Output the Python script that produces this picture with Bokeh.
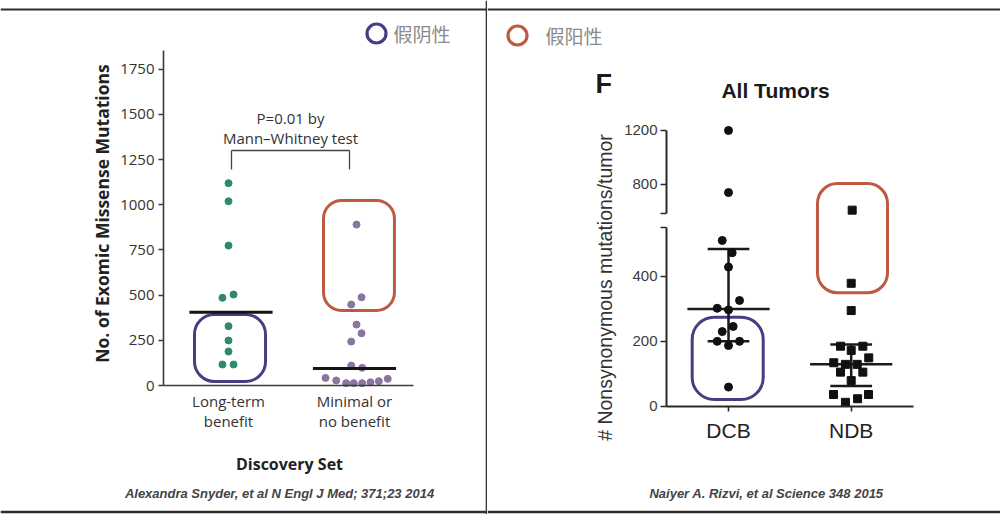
import math
from bokeh.plotting import figure
from bokeh.models import Range1d, LinearAxis, FixedTicker, Span
from bokeh.layouts import row
from bokeh.core.properties import value
from bokeh.embed import file_html
from bokeh.resources import INLINE

# ---------------- data: Snyder et al., NEJM 2014 (left panel) ----------------
snyder_categories = ["Long-term\nbenefit", "Minimal or\nno benefit"]
snyder_ticks = [0, 250, 500, 750, 1000, 1250, 1500, 1750]
ltb_values = [1119, 1019, 774, 503, 485, 328, 249, 188, 116, 116]
ltb_jitter = [0, 0, 0, 0.04, -0.048, 0, 0, 0, -0.048, 0.04]
mnb_values = [890, 488, 448, 337, 289, 243, 110, 98, 42, 28, 13, 13, 13, 18, 24, 37]
mnb_jitter = [0.016, 0.056, -0.026, 0.016, 0.056, -0.026, -0.026, 0.061,
              -0.230, -0.145, -0.066, -0.006, 0.061, 0.127, 0.193, 0.264]
snyder_medians = [405, 94]
snyder_fn_box = [0.73, 1.294, 22, 393]      # left, right, bottom, top
snyder_fp_box = [1.754, 2.317, 415, 1023]
p_value_lines = ["P=0.01 by", "Mann\u2013Whitney test"]

# ---------------- data: Rizvi et al., Science 2015 (right panel) ----------------
rizvi_categories = ["DCB", "NDB"]
rizvi_lower_ticks = [0, 200, 400]
rizvi_upper_ticks = [800, 1200]
dcb_values = [1200, 740, 511, 473, 429, 326, 302, 297, 246, 230, 200, 200, 187, 59]
dcb_jitter = [0, 0, -0.051, 0.03, 0, 0.09, -0.092, 0, 0.038, -0.051, -0.092, 0.09, 0, 0]
ndb_values = [610, 379, 295, 185, 185, 172, 149, 134, 129, 129, 105, 105, 79, 36, 36, 23, 12]
ndb_jitter = [0.008, 0, 0, -0.087, 0.095, 0, 0.143, -0.142, -0.047, 0.049,
              -0.087, 0.095, 0, -0.144, 0.141, 0.052, -0.047]
rizvi_median = [300, 129]
rizvi_q1 = [200, 62]
rizvi_q3 = [485, 190]
rizvi_fn_box = [0.704, 1.283, 21, 274]
rizvi_fp_box = [1.725, 2.296, 350, 807]

PURPLE = "#4b3c82"
RED = "#bd5a40"
LEG_TXT = "#8a8a8a"
RULE = "#2e2e2e"
CJK = value("Noto Sans CJK SC")

# ======================= LEFT PANEL =======================
L_LEFT, L_TOP, L_W, L_H = 0, 0, 487, 514
LX0, LXS = 228.0, 126.0          # category 1 position / px per category
LY0, LYS = 385.0, 45.2 / 250     # zero line / px per mutation


def lx(px):
    return 1 + (px - LX0) / LXS


def ly(py):
    return (LY0 - py) / LYS


pL = figure(width=L_W, height=L_H, output_backend="svg", toolbar_location=None,
            x_range=Range1d(lx(L_LEFT), lx(L_LEFT + L_W)),
            y_range=Range1d(ly(L_TOP + L_H), ly(L_TOP)),
            x_axis_type=None, y_axis_type=None, min_border=0)
pL.outline_line_color = None

sans = value("Open Sans")

yaxL = LinearAxis(fixed_location=lx(163), bounds=(0, ly(50)),
                  ticker=FixedTicker(ticks=snyder_ticks))
xaxL = LinearAxis(fixed_location=0, bounds=(lx(163), lx(413)),
                  ticker=FixedTicker(ticks=[1, 2]),
                  major_label_overrides={1: snyder_categories[0], 2: snyder_categories[1]})
for ax in (yaxL, xaxL):
    ax.axis_line_color = "#3a3a3a"
    ax.axis_line_width = 1.6
    ax.major_tick_line_color = "#3a3a3a"
    ax.major_tick_line_width = 1.4
    ax.major_tick_in = 0
    ax.minor_tick_in = 0
    ax.minor_tick_out = 0
    ax.major_label_text_font = "Open Sans"
    ax.major_label_text_font_size = "15px"
    ax.major_label_text_color = "#333333"
yaxL.major_tick_out = 5
yaxL.major_label_standoff = 4
xaxL.major_tick_out = 0
xaxL.major_label_standoff = 5
xaxL.major_label_text_line_height = 1.0
pL.add_layout(yaxL, "left")
pL.add_layout(xaxL, "below")

# highlight boxes
pL.quad(left=[snyder_fn_box[0]], right=[snyder_fn_box[1]], bottom=[snyder_fn_box[2]], top=[snyder_fn_box[3]],
        fill_color=None, line_color=PURPLE, line_width=3, border_radius=20)
pL.quad(left=[snyder_fp_box[0]], right=[snyder_fp_box[1]], bottom=[snyder_fp_box[2]], top=[snyder_fp_box[3]],
        fill_color=None, line_color=RED, line_width=3, border_radius=18)

# points
pL.scatter(x=[1 + j for j in ltb_jitter], y=ltb_values, size=7, color="#2e8a6b")
pL.scatter(x=[2 + j for j in mnb_jitter], y=mnb_values, size=7, color="#8a74a0")

# medians
pL.segment(x0=[c - 0.33 for c in (1.02, 2.0)], x1=[c + 0.33 for c in (1.02, 2.0)],
           y0=snyder_medians, y1=snyder_medians, line_width=3, line_color="#151515")

# significance bracket
br_top, br_bot = ly(150), ly(169)
pL.segment(x0=[lx(231), lx(231), lx(349)], x1=[lx(349), lx(231), lx(349)],
           y0=[br_top, br_top, br_top], y1=[br_top, br_bot, br_bot],
           line_width=1.3, line_color="#444444")
pL.text(x=[lx(290), lx(290)], y=[ly(117), ly(137)], text=p_value_lines,
        text_font=sans, text_font_size="15px", text_color="#333333",
        text_align="center", text_baseline="middle")

# axis titles and citation
pL.text(x=[lx(101)], y=[ly(213)], text=["No. of Exomic Missense Mutations"], angle=math.pi / 2,
        text_font=sans, text_font_style="bold", text_font_size="17.5px", text_color="#222222",
        text_align="center", text_baseline="middle")
pL.text(x=[lx(289)], y=[ly(463)], text=["Discovery Set"],
        text_font=sans, text_font_style="bold", text_font_size="16px", text_color="#222222",
        text_align="center", text_baseline="middle")
pL.text(x=[lx(279)], y=[ly(493)], text=["Alexandra Snyder, et al N Engl J Med; 371;23 2014"],
        text_font=value("Liberation Sans"), text_font_style="bold italic", text_font_size="13px",
        text_color="#444444", text_align="center", text_baseline="middle")

# legend mark
pL.scatter(x=[lx(376)], y=[ly(33)], size=19, marker="circle", fill_color=None,
           line_color=PURPLE, line_width=3.2)
pL.text(x=[lx(393)], y=[ly(33)], text=["假阴性"], text_font=CJK, text_font_size="19px",
        text_color=LEG_TXT, text_align="left", text_baseline="middle")

# page rules (top, bottom, divider)
pL.add_layout(Span(location=ly(9), dimension="width", line_color=RULE, line_width=2))
pL.add_layout(Span(location=ly(511.5), dimension="width", line_color=RULE, line_width=2.5))
pL.add_layout(Span(location=lx(486), dimension="height", line_color="#333333", line_width=1.6))

# ======================= RIGHT PANEL =======================
R_LEFT, R_TOP, R_W, R_H = 487, 0, 513, 514
RX0, RXS = 728.0, 122.7
RY0 = 405.7
LOW_PX = 64.86 / 200      # px per mutation below the break
UP_PX = 54.0 / 400        # px per mutation above the break
BREAK_LOW, BREAK_HIGH = 550, 585
UP_BASE = 192.7           # px above zero where upper segment starts


def broken(v):
    if v <= (BREAK_LOW + BREAK_HIGH) / 2:
        return v * LOW_PX
    return UP_BASE + (v - BREAK_HIGH) * UP_PX


def rx(px):
    return 1 + (px - RX0) / RXS


def ry(py):
    return RY0 - py


pR = figure(width=R_W, height=R_H, output_backend="svg", toolbar_location=None,
            x_range=Range1d(rx(R_LEFT), rx(R_LEFT + R_W)),
            y_range=Range1d(ry(R_TOP + R_H), ry(R_TOP)),
            x_axis_type=None, y_axis_type=None, min_border=0)
pR.outline_line_color = None

arial = value("Liberation Sans")

low_ticks = [broken(t) for t in rizvi_lower_ticks] + [broken(BREAK_LOW)]
low_over = {broken(t): str(t) for t in rizvi_lower_ticks}
low_over[broken(BREAK_LOW)] = ""
up_ticks = [broken(BREAK_HIGH)] + [broken(t) for t in rizvi_upper_ticks]
up_over = {broken(t): str(t) for t in rizvi_upper_ticks}
up_over[broken(BREAK_HIGH)] = ""

yaxR1 = LinearAxis(fixed_location=rx(666), bounds=(0, broken(BREAK_LOW)),
                   ticker=FixedTicker(ticks=low_ticks), major_label_overrides=low_over)
yaxR2 = LinearAxis(fixed_location=rx(666), bounds=(broken(BREAK_HIGH), broken(1200)),
                   ticker=FixedTicker(ticks=up_ticks), major_label_overrides=up_over)
xaxR = LinearAxis(fixed_location=0, bounds=(rx(666), rx(913)),
                  ticker=FixedTicker(ticks=[1, 2]),
                  major_label_overrides={1: rizvi_categories[0], 2: rizvi_categories[1]})
for ax in (yaxR1, yaxR2, xaxR):
    ax.axis_line_color = "#2a2a2a"
    ax.axis_line_width = 2
    ax.major_tick_line_color = "#2a2a2a"
    ax.major_tick_line_width = 1.6
    ax.major_tick_in = 0
    ax.minor_tick_in = 0
    ax.minor_tick_out = 0
    ax.major_label_text_font = "Liberation Sans"
    ax.major_label_text_color = "#3a3a3a"
for ax in (yaxR1, yaxR2):
    ax.major_tick_out = 6
    ax.major_label_standoff = 3
    ax.major_label_text_font_size = "15px"
xaxR.major_tick_out = 5
xaxR.major_label_standoff = 8
xaxR.major_label_text_font_size = "21px"
xaxR.major_label_text_color = "#222222"
pR.add_layout(yaxR1, "left")
pR.add_layout(yaxR2, "left")
pR.add_layout(xaxR, "below")

# highlight boxes
pR.quad(left=[rizvi_fn_box[0]], right=[rizvi_fn_box[1]],
        bottom=[broken(rizvi_fn_box[2])], top=[broken(rizvi_fn_box[3])],
        fill_color=None, line_color=PURPLE, line_width=3, border_radius=22)
pR.quad(left=[rizvi_fp_box[0]], right=[rizvi_fp_box[1]],
        bottom=[broken(rizvi_fp_box[2])], top=[broken(rizvi_fp_box[3])],
        fill_color=None, line_color=RED, line_width=3, border_radius=20)

# median & interquartile range
cats = [1, 2]
pR.segment(x0=[c - 0.335 for c in cats], x1=[c + 0.335 for c in cats],
           y0=[broken(v) for v in rizvi_median], y1=[broken(v) for v in rizvi_median],
           line_width=2.5, line_color="#1a1a1a")
pR.segment(x0=[c - 0.17 for c in cats] * 2, x1=[c + 0.17 for c in cats] * 2,
           y0=[broken(v) for v in rizvi_q1 + rizvi_q3], y1=[broken(v) for v in rizvi_q1 + rizvi_q3],
           line_width=2.5, line_color="#1a1a1a")
pR.segment(x0=cats, x1=cats, y0=[broken(v) for v in rizvi_q1], y1=[broken(v) for v in rizvi_q3],
           line_width=2.5, line_color="#1a1a1a")

# points
pR.scatter(x=[1 + j for j in dcb_jitter], y=[broken(v) for v in dcb_values],
           size=8, marker="circle", color="#111111")
pR.scatter(x=[2 + j for j in ndb_jitter], y=[broken(v) for v in ndb_values],
           size=8, marker="square", color="#111111")

# texts
pR.text(x=[rx(595)], y=[ry(83)], text=["F"], text_font=arial, text_font_style="bold",
        text_font_size="27px", text_color="#1a1a1a", text_align="left", text_baseline="middle")
pR.text(x=[rx(775)], y=[ry(90)], text=["All Tumors"], text_font=arial, text_font_style="bold",
        text_font_size="21px", text_color="#1a1a1a", text_align="center", text_baseline="middle")
pR.text(x=[rx(604)], y=[ry(287)], text=["# Nonsynonymous mutations/tumor"], angle=math.pi / 2,
        text_font=arial, text_font_size="19.5px", text_color="#333333",
        text_align="center", text_baseline="middle")
pR.text(x=[rx(766)], y=[ry(493)], text=["Naiyer A. Rizvi, et al Science 348 2015"],
        text_font=arial, text_font_style="bold italic", text_font_size="13px",
        text_color="#444444", text_align="center", text_baseline="middle")

# legend mark
pR.scatter(x=[rx(517)], y=[ry(35)], size=19, marker="circle", fill_color=None,
           line_color=RED, line_width=3.2)
pR.text(x=[rx(545)], y=[ry(35)], text=["假阳性"], text_font=CJK, text_font_size="19px",
        text_color=LEG_TXT, text_align="left", text_baseline="middle")

# page rules (top, bottom)
pR.add_layout(Span(location=ry(9), dimension="width", line_color=RULE, line_width=2))
pR.add_layout(Span(location=ry(511.5), dimension="width", line_color=RULE, line_width=2.5))

layout = row(pL, pR)

open("out.html", "w").write(file_html(layout, INLINE))
